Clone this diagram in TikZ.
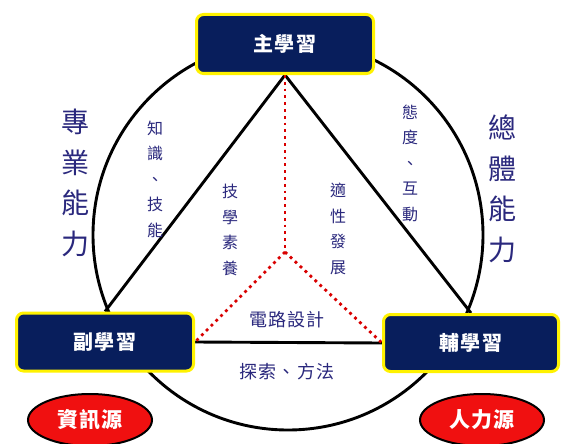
\documentclass[tikz,border=0pt]{standalone}
\usepackage{fontspec}
\setmainfont{Noto Sans CJK TC}
\newfontfamily\cjksp[LetterSpace=6]{Noto Sans CJK TC}
\usetikzlibrary{shapes.geometric}
\definecolor{navybox}{RGB}{8,30,92}
\definecolor{labelblue}{RGB}{42,40,125}
\definecolor{ellred}{RGB}{240,16,16}
\begin{document}
\begin{tikzpicture}[x=1pt,y=-1pt,
  learnbox/.style={draw=yellow,line width=3pt,fill=navybox,rounded corners=7pt,
    text=white,font=\cjksp\bfseries\fontsize{20}{22}\selectfont,inner sep=0pt},
  srcell/.style={ellipse,draw=black,line width=2pt,fill=ellred,text=white,
    minimum width=124pt,minimum height=52pt,inner sep=0pt,
    font=\cjksp\bfseries\fontsize{21}{23}\selectfont},
  biglabel/.style={text=labelblue,align=center,inner sep=0pt,
    font=\fontsize{28}{40.5}\selectfont},
  vlabel/.style={text=labelblue,align=center,inner sep=0pt,
    font=\fontsize{16}{25.5}\selectfont},
  hlabel/.style={text=labelblue,inner sep=0pt,
    font=\cjksp\fontsize{18}{20}\selectfont},
  thick line/.style={draw=black,line width=2.9pt},
  reddots/.style={draw=red!85!black,line width=2.8pt,dash pattern=on 2.8pt off 4pt}
]
\useasboundingbox (0,0) rectangle (562,444);
\fill[white] (0,0) rectangle (562,444);

\coordinate (ctr) at (288,235);
\coordinate (mid) at (285,252);

% invisible anchors for the three learning boxes
\path (285,44) node[minimum width=177pt,minimum height=59pt,inner sep=0pt,line width=3pt] (main) {};
\path (105,342) node[minimum width=177pt,minimum height=58pt,inner sep=0pt,line width=3pt] (sub) {};
\path (471,343) node[minimum width=175pt,minimum height=57pt,inner sep=0pt,line width=3pt] (aux) {};

% circle
\draw[thick line] (ctr) circle[radius=195];

% triangle
\draw[thick line] (main.south) -- (sub.north);
\draw[thick line] (main.south) -- (aux.north);
\draw[thick line] (sub.east) -- (aux.west);

% red dotted
\draw[reddots] (main.south) -- (mid);
\draw[reddots] (mid) -- (sub.east);
\draw[reddots] (mid) -- (aux.west);

% boxes on top
\node[learnbox,minimum width=177pt,minimum height=59pt] (mainbox) at (main) {主學習};
\node[learnbox,minimum width=177pt,minimum height=58pt] (subbox) at (sub) {副學習};
\node[learnbox,minimum width=175pt,minimum height=57pt] (auxbox) at (aux) {輔學習};

% source ellipses
\node[srcell] (info) at (90,420) {資訊源};
\node[srcell] (human) at (482,420) {人力源};

% labels
\node[biglabel] (prof) at (75,183) {專\\業\\能\\力};
\node[biglabel] (whole) at (502,189) {總\\體\\能\\力};
\node[vlabel] (know) at (155,179) {知\\識\\、\\技\\能};
\node[vlabel] (attit) at (410,163) {態\\度\\、\\互\\動};
\node[vlabel] (tech) at (230,230) {技\\學\\素\\養};
\node[vlabel] (fit) at (338,229) {適\\性\\發\\展};
\node[hlabel] (circ) at (287,320) {電路設計};
\node[hlabel] (expl) at (287,372) {探索、方法};
\end{tikzpicture}
\end{document}
